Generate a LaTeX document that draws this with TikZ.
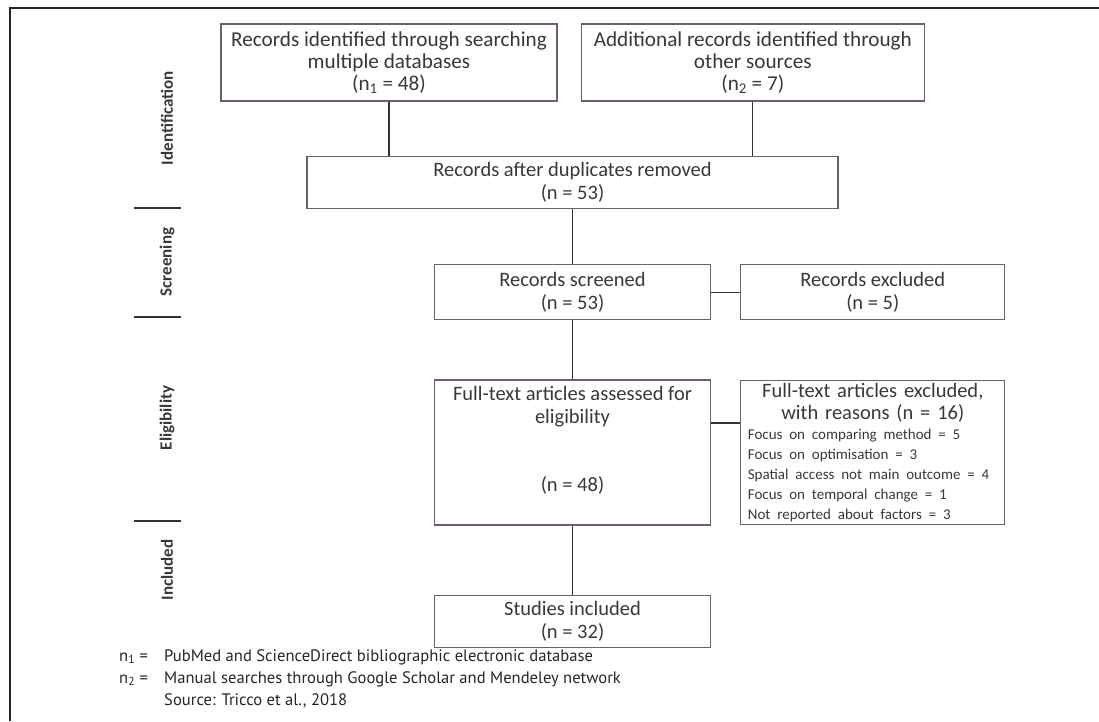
\documentclass[tikz,border=0pt]{standalone}
\usepackage{fontspec}
\setmainfont{Carlito}
\newfontfamily\notefont{PT Sans}
\usetikzlibrary{positioning,calc}

\definecolor{boxline}{HTML}{6E625E}
\definecolor{txtgray}{HTML}{383838}

\tikzset{
  prisma/.style={draw=boxline, line width=1.3pt, rectangle, inner sep=0pt, align=center,
    text=txtgray, font=\fontsize{20.5}{22.5}\selectfont},
  stage/.style={rotate=90, text=txtgray, font=\bfseries\fontsize{17}{19}\selectfont},
  link/.style={draw=black!80, line width=1.3pt},
  note/.style={anchor=base west, inner sep=0pt, text=black!85, font=\notefont\fontsize{16.6}{19}\selectfont},
}

\begin{document}
\begin{tikzpicture}[x=1pt,y=-1pt]
    \useasboundingbox (0,0) rectangle (1099,721);
    \draw[line width=2.5pt, black!85] (1099,8) -- (10,8) -- (10,721);

    % stages
    \node[stage] (ident) at (167,118) {Identification};
    \node[stage] (scrn)  at (167,262) {Screening};
    \node[stage] (elig)  at (167,418) {Eligibility};
    \node[stage] (inc)   at (167,570) {Included};
    \foreach \y in {208,317,521}
        \draw[black!80, line width=1.2pt] (134,\y) -- (181,\y);

    % identification
    \node[prisma, font=\fontsize{21.2}{22}\selectfont, minimum width=336pt, minimum height=77pt] (db) at (389,62.5)
        {Records identified through searching\\multiple databases\\(n\textsubscript{1} = 48)};
    \node[prisma, font=\fontsize{21.2}{22}\selectfont, minimum width=343pt, minimum height=77pt, right=23pt of db] (other)
        {Additional records identified through\\other sources\\(n\textsubscript{2} = 7)};
    \node[prisma, minimum width=531pt, minimum height=52pt] (dup) at (572.5,182.5)
        {Records after duplicates removed\\(n = 53)};

    % screening
    \node[prisma, below=55pt of dup, minimum width=276pt, minimum height=55pt] (screen)
        {Records screened\\(n = 53)};
    \node[prisma, right=29pt of screen, minimum width=264pt, minimum height=55pt] (excl)
        {Records excluded\\(n = 5)};

    % eligibility
    \node[prisma, below=59pt of screen, minimum width=276pt, minimum height=145pt] (full)
        {Full-text articles assessed for\\eligibility\\[46pt](n = 48)\\[4pt]~};
    \node[prisma, right=29pt of full, minimum height=144pt, inner xsep=7pt, text width=250pt, align=left] (reason)
        {\centering\fontsize{20.5}{21.5}\selectfont Full-text articles excluded,\\with reasons (n = 16)\par
         \raggedright\fontsize{15}{20}\selectfont
         Focus on comparing method = 5\\
         Focus on optimisation = 3\\
         Spatial access not main outcome = 4\\
         Focus on temporal change = 1\\
         Not reported about factors = 3\par};

    % included
    \node[prisma, below=69pt of full, minimum width=276pt, minimum height=52pt] (incl)
        {Studies included\\(n = 32)};

    \draw[link] (db.south) -- (db.south |- dup.north);
    \draw[link] (other.south) -- (other.south |- dup.north);
    \draw[link] (dup) -- (screen);
    \draw[link] (screen) -- (excl);
    \draw[link] (screen) -- (full);
    \draw[link] ([yshift=29.5pt]full.east) -- ([yshift=29.5pt]full.east -| reason.west);
    \draw[link] (full) -- (incl);

    % notes
    \node[note] (n1) at (119,661) {n\textsubscript{1} =};
    \node[note] (n1txt) at (164,661) {PubMed and ScienceDirect bibliographic electronic database};
    \node[note] (n2) at (119,683) {n\textsubscript{2} =};
    \node[note] (n2txt) at (164,683) {Manual searches through Google Scholar and Mendeley network};
    \node[note] (src) at (164,705) {Source: Tricco et al., 2018};
\end{tikzpicture}
\end{document}
